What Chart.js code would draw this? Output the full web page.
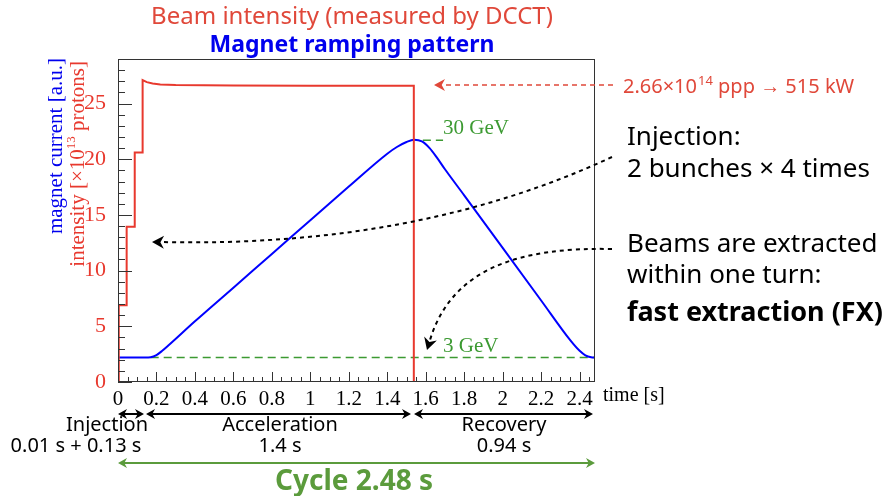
<!DOCTYPE html>
<html>
<head>
<meta charset="utf-8">
<script src="https://cdn.jsdelivr.net/npm/chart.js@4.4.0/dist/chart.umd.min.js"></script>
<style>
  html, body { margin: 0; padding: 0; background: #fff; }
</style>
</head>
<body>
<canvas id="cycleChart" width="887" height="496"></canvas>
<script>
// Beam intensity measured by DCCT (x10^13 protons), stepped injection then fast extraction
const intensityTime = [0, 0.004, 0.004, 0.045, 0.045, 0.087, 0.087, 0.128, 0.128, 0.15, 0.18, 0.22, 0.3, 0.6, 1.0, 1.538, 1.538];
const intensityValue = [0, 0, 6.89, 6.89, 13.93, 13.93, 20.6, 20.6, 27.1, 26.92, 26.8, 26.72, 26.66, 26.62, 26.6, 26.6, 0];

// Magnet ramping pattern (a.u.)
const magnetTime = [0, 0.14, 0.17, 0.2, 0.23, 0.26, 0.4, 0.6, 0.8, 1.0, 1.2, 1.4, 1.45, 1.5, 1.54, 1.58, 1.62, 1.66, 1.7, 1.8, 2.0, 2.2, 2.35, 2.4, 2.43, 2.46, 2.48];
const magnetCurrent = [2.19, 2.19, 2.22, 2.42, 2.8, 3.25, 5.45, 8.47, 11.5, 14.52, 17.55, 20.5, 21.1, 21.55, 21.75, 21.6, 21.0, 20.1, 19.1, 16.76, 12.04, 7.32, 3.78, 2.8, 2.4, 2.22, 2.19];

// energy reference levels
const level3GeVTime = [0.17, 2.48];
const level3GeV = [2.19, 2.19];
const level30GeVTime = [1.585, 1.69];
const level30GeV = [21.7, 21.7];

const xMax = 2.48;
const yMax = 29;

const RED = "#e8392e";
const TXT_RED = "#e0483a";
const GREEN = "#3c9a32";
const CYCLE_GREEN = "#5b9b3c";
const SERIF = '"Liberation Serif", "Times New Roman", serif';
const SANS = '"Noto Sans", "Liberation Sans", Arial, sans-serif';

const toPoints = (xs, ys) => xs.map((t, i) => ({ x: t, y: ys[i] }));

function arrowHead(ctx, x, y, angle, size) {
  ctx.save();
  ctx.translate(x, y);
  ctx.rotate(angle);
  ctx.beginPath();
  ctx.moveTo(0, 0);
  ctx.lineTo(-size, -size * 0.55);
  ctx.lineTo(-size * 0.7, 0);
  ctx.lineTo(-size, size * 0.55);
  ctx.closePath();
  ctx.fill();
  ctx.restore();
}

function doubleArrow(ctx, x1, x2, y, color) {
  ctx.strokeStyle = color;
  ctx.fillStyle = color;
  ctx.lineWidth = 2;
  ctx.setLineDash([]);
  ctx.beginPath();
  ctx.moveTo(x1 + 4, y);
  ctx.lineTo(x2 - 4, y);
  ctx.stroke();
  arrowHead(ctx, x1, y, Math.PI, 9);
  arrowHead(ctx, x2, y, 0, 9);
}

// draws a rotated title made of [text, color, size, raise] pieces, ending at topY
function rotatedTitle(ctx, x, topY, pieces) {
  ctx.save();
  ctx.translate(x, topY);
  ctx.rotate(-Math.PI / 2);
  ctx.textAlign = "left";
  ctx.textBaseline = "alphabetic";
  let w = 0;
  pieces.forEach(p => { ctx.font = p[2] + "px " + SERIF; w += ctx.measureText(p[0]).width; });
  let cx = -w;
  pieces.forEach(p => {
    ctx.font = p[2] + "px " + SERIF;
    ctx.fillStyle = p[1];
    ctx.fillText(p[0], cx, -(p[3] || 0));
    cx += ctx.measureText(p[0]).width;
  });
  ctx.restore();
}

const decor = {
  id: "decor",
  afterDatasetsDraw(chart) {
    const { ctx, chartArea: a, scales: { x, y } } = chart;
    ctx.save();

    // frame
    ctx.strokeStyle = "#333";
    ctx.lineWidth = 1;
    ctx.strokeRect(a.left + 0.5, a.top + 0.5, a.right - a.left - 1, a.bottom - a.top - 1);

    // inside tick marks
    ctx.beginPath();
    for (let v = 0; v <= yMax; v++) {
      const py = Math.round(y.getPixelForValue(v)) + 0.5;
      ctx.moveTo(a.left, py);
      ctx.lineTo(a.left + (v % 5 === 0 ? 14 : 7), py);
    }
    for (let i = 0; i * 0.05 <= xMax + 1e-9; i++) {
      const px = Math.round(x.getPixelForValue(i * 0.05)) + 0.5;
      ctx.moveTo(px, a.bottom);
      ctx.lineTo(px, a.bottom - (i % 4 === 0 ? 10 : 5));
    }
    ctx.stroke();

    // axis titles
    rotatedTitle(ctx, 62, 58, [["magnet current [a.u.]", "#0000ee", 21]]);
    rotatedTitle(ctx, 84, 61, [
      ["intensity [\u00d710", RED, 21],
      ["13", RED, 13, 9],
      [" protons]", RED, 21]
    ]);

    ctx.fillStyle = "#000";
    ctx.font = "20px " + SERIF;
    ctx.textBaseline = "middle";
    ctx.textAlign = "left";
    ctx.fillText("time [s]", 603, 396);

    // energy labels
    ctx.fillStyle = GREEN;
    ctx.font = "21px " + SERIF;
    ctx.fillText("30 GeV", 443, 128);
    ctx.fillText("3 GeV", 443, 346);

    // titles
    ctx.textAlign = "center";
    ctx.fillStyle = TXT_RED;
    ctx.font = "24px " + SANS;
    ctx.fillText("Beam intensity (measured by DCCT)", 352, 17);
    ctx.fillStyle = "#0000ee";
    ctx.font = "bold 23px " + SANS;
    ctx.fillText("Magnet ramping pattern", 352, 45);

    // intensity annotation with dashed arrow
    ctx.textAlign = "left";
    ctx.fillStyle = TXT_RED;
    ctx.font = "20px " + SANS;
    let tx = 623;
    ctx.fillText("2.66\u00d710", tx, 87);
    tx += ctx.measureText("2.66\u00d710").width;
    ctx.font = "13px " + SANS;
    ctx.fillText("14", tx + 1, 81);
    tx += ctx.measureText("14").width + 1;
    ctx.font = "20px " + SANS;
    ctx.fillText(" ppp \u2192 515 kW", tx, 87);

    ctx.strokeStyle = TXT_RED;
    ctx.lineWidth = 1.5;
    ctx.setLineDash([5, 4]);
    ctx.beginPath();
    ctx.moveTo(613, 85);
    ctx.lineTo(442, 85);
    ctx.stroke();
    ctx.setLineDash([]);
    arrowHead(ctx, 434, 85, Math.PI, 11);

    // right-hand notes
    ctx.fillStyle = "#000";
    ctx.font = "26px " + SANS;
    ctx.fillText("Injection:", 627, 138);
    ctx.fillText("2 bunches \u00d7 4 times", 627, 170);
    ctx.fillText("Beams are extracted", 627, 245);
    ctx.fillText("within one turn:", 627, 276);
    ctx.font = "bold 27px " + SANS;
    ctx.fillText("fast extraction (FX)", 627, 313);

    // dotted pointer curves
    ctx.strokeStyle = "#000";
    ctx.lineWidth = 2;
    ctx.setLineDash([4, 4]);
    ctx.beginPath();
    ctx.moveTo(612, 157);
    ctx.quadraticCurveTo(416, 248, 162, 242);
    ctx.stroke();
    ctx.beginPath();
    ctx.moveTo(612, 249);
    ctx.bezierCurveTo(520, 247, 452, 268, 430, 340);
    ctx.stroke();
    ctx.setLineDash([]);
    ctx.fillStyle = "#000";
    arrowHead(ctx, 152, 242, Math.PI + 0.02, 12);
    arrowHead(ctx, 427, 350, Math.atan2(340 - 268, 430 - 452), 12);

    // phase arrows below the axis
    doubleArrow(ctx, 118, 144, 414, "#000");
    doubleArrow(ctx, 146, 411, 414, "#000");
    doubleArrow(ctx, 414, 593, 414, "#000");
    ctx.fillStyle = "#000";
    ctx.font = "20px " + SANS;
    ctx.textAlign = "center";
    ctx.fillText("Injection", 107, 425);
    ctx.fillText("0.01 s + 0.13 s", 76, 446);
    ctx.fillText("Acceleration", 280, 425);
    ctx.fillText("1.4 s", 280, 446);
    ctx.fillText("Recovery", 504, 425);
    ctx.fillText("0.94 s", 504, 446);

    doubleArrow(ctx, 118, 595, 463, CYCLE_GREEN);
    ctx.fillStyle = CYCLE_GREEN;
    ctx.font = "bold 28px " + SANS;
    ctx.fillText("Cycle 2.48 s", 354, 482);

    ctx.restore();
  }
};

const ctx = document.getElementById("cycleChart").getContext("2d");
const cycleChart = new Chart(ctx, {
  type: "line",
  data: {
    datasets: [
      {
        label: "Beam intensity",
        data: toPoints(intensityTime, intensityValue),
        borderColor: RED,
        borderWidth: 2,
        pointRadius: 0,
        tension: 0,
      },
      {
        label: "Magnet current",
        data: toPoints(magnetTime, magnetCurrent),
        borderColor: "#0000ff",
        borderWidth: 2,
        pointRadius: 0,
        cubicInterpolationMode: "monotone",
      },
      {
        label: "3 GeV",
        data: toPoints(level3GeVTime, level3GeV),
        borderColor: GREEN,
        borderWidth: 1.5,
        borderDash: [8, 5],
        pointRadius: 0,
      },
      {
        label: "30 GeV",
        data: toPoints(level30GeVTime, level30GeV),
        borderColor: GREEN,
        borderWidth: 1.5,
        borderDash: [8, 5],
        pointRadius: 0,
      },
    ],
  },
  options: {
    responsive: false,
    animation: false,
    layout: {
      padding: { left: 78, right: 292, top: 59, bottom: 84 },
    },
    plugins: {
      legend: { display: false },
      tooltip: { enabled: false },
    },
    scales: {
      x: {
        type: "linear",
        min: 0,
        max: xMax,
        grid: { display: false },
        border: { display: false },
        afterFit: (s) => { s.height = 30; },
        ticks: {
          stepSize: 0.2,
          includeBounds: false,
          maxRotation: 0,
          autoSkip: false,
          padding: -3,
          color: "#000",
          font: { family: SERIF, size: 21 },
          callback: (v) => String(Number(v.toFixed(2))),
        },
      },
      y: {
        min: 0,
        max: yMax,
        grid: { display: false },
        border: { display: false },
        afterFit: (s) => { s.width = 40; },
        ticks: {
          stepSize: 5,
          includeBounds: false,
          padding: 4,
          color: RED,
          font: { family: SERIF, size: 22 },
        },
      },
    },
  },
  plugins: [decor],
});
</script>
</body>
</html>
